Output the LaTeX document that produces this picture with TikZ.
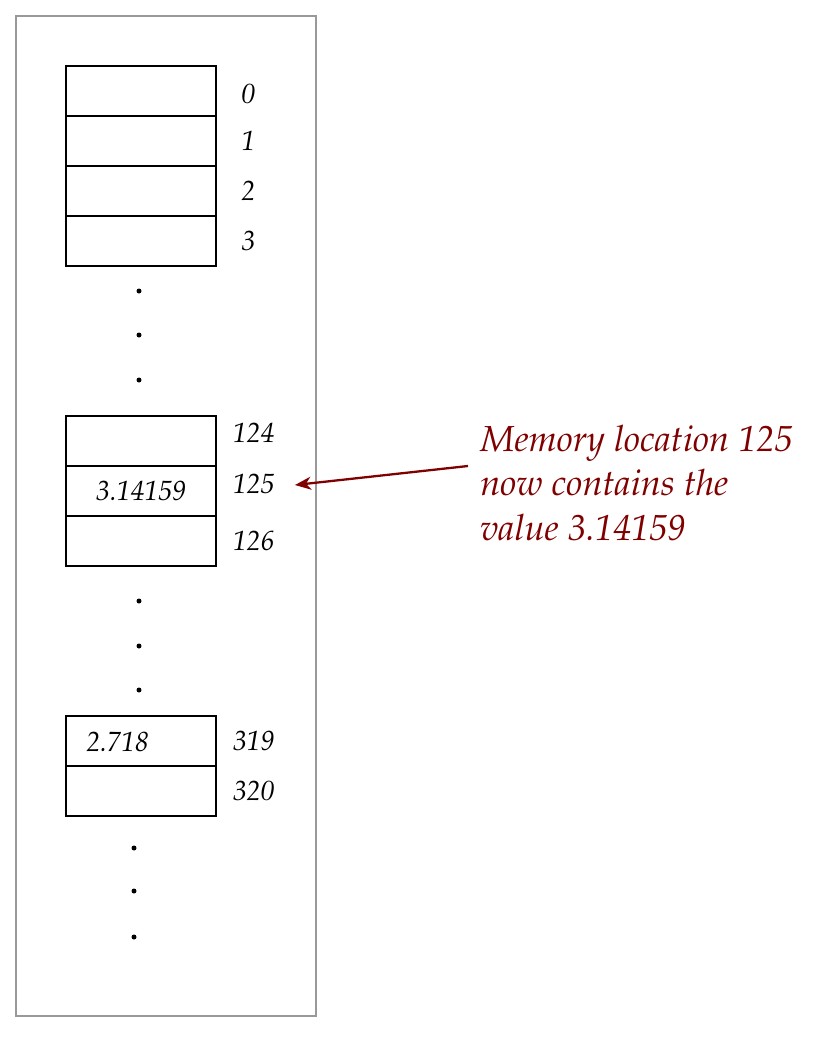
\documentclass[tikz,border=0pt]{standalone}
\usepackage[T1]{fontenc}
\usepackage{mathpazo}
\usepackage{xcolor}
\usepackage{tikz}
\usetikzlibrary{positioning,arrows.meta}
\definecolor{memred}{RGB}{128,0,0}

\begin{document}
\begin{tikzpicture}[
node distance=0pt,
cell/.style={draw, line width=1.4pt, minimum width=3cm, minimum height=1cm, outer sep=0pt, inner sep=0pt, font=\fontsize{15.8}{18}\selectfont\itshape},
addr/.style={anchor=west, inner sep=0pt, font=\fontsize{15.8}{18}\selectfont\itshape},
note/.style={align=left, inner sep=0pt, anchor=west, text=memred, font=\fontsize{20.6}{25.5}\selectfont\itshape},
arrow/.style={-{Stealth[length=3.2mm,width=2.6mm,inset=1mm]}, line width=1.3pt, memred}
]
\useasboundingbox (0,0) rectangle (16.64,-20.98);
\draw[line width=1.3pt, black!40] (0.32,-0.32) rectangle (6.32,-20.32);
% locations 0 to 3
\node[cell] (c0) at (2.82,-1.82) {};
\node[cell, below=of c0] (c1) {};
\node[cell, below=of c1] (c2) {};
\node[cell, below=of c2] (c3) {};
\node[addr, right=0.5cm of c0, yshift=-0.06cm] {0};
\foreach \i in {1,...,3}
  \node[addr, right=0.5cm of c\i] {\i};
% locations 124 to 126
\node[cell] (c124) at (2.82,-8.82) {};
\node[cell, below=of c124] (c125) {3.14159};
\node[cell, below=of c125] (c126) {};
\node[addr, right=0.33cm of c124, yshift=0.16cm] {124};
\node[addr, right=0.33cm of c125, yshift=0.14cm] (a125) {125};
\node[addr, right=0.33cm of c126] {126};
% locations 319 and 320
\node[cell] (c319) at (2.82,-14.82) {};
\node[cell, below=of c319] (c320) {};
\node[addr, anchor=west] at (1.72,-14.84) {2.718};
\node[addr, right=0.33cm of c319] {319};
\node[addr, right=0.33cm of c320] {320};
% dots
\foreach \y in {5.82,6.7,7.6,12.02,12.92,13.8}
  \fill (2.78,-\y) circle (0.05);
\foreach \y in {16.96,17.82,18.74}
  \fill (2.68,-\y) circle (0.05);
% annotation
\node[note] (ann) at (9.6,-9.66) {Memory location 125\\now contains the\\value 3.14159};
\coordinate (tail) at (9.36,-9.32);
\coordinate (head) at (5.9,-9.7);
\draw[arrow] (tail) -- (head);
\end{tikzpicture}
\end{document}
